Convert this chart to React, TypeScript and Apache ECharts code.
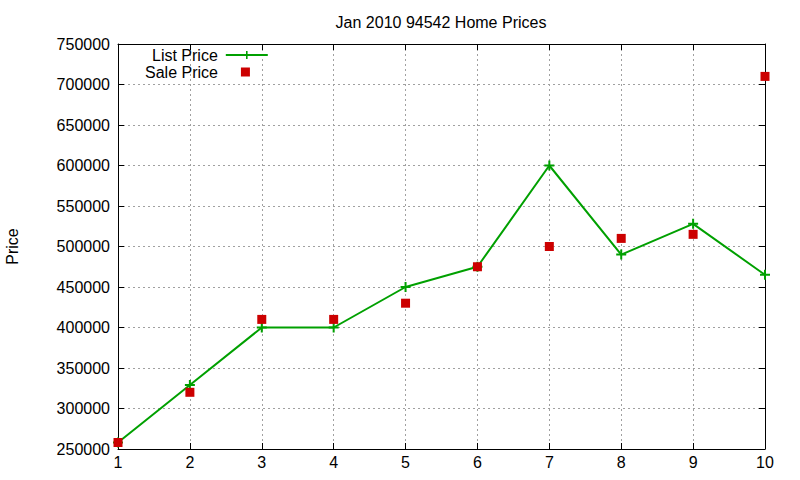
import React, { useEffect, useRef } from "react";
import * as echarts from "echarts";

const months = [1, 2, 3, 4, 5, 6, 7, 8, 9, 10];
const listPrice = [258000, 329000, 400000, 400000, 450000, 475000, 600000, 490000, 528000, 465000];
const salePrice = [258000, 320000, 410000, 410000, 430000, 475000, 500000, 510000, 515000, 710000];
const titleText = "Jan 2010 94542 Home Prices";
const yName = "Price";

const FONT = "'Liberation Sans', Arial, sans-serif";
const GREEN = "#00a000";
const RED = "#cc0000";
const PLUS = "path://M4,0H6V4H10V6H6V10H4V6H0V4H4Z";

export default function App() {
  const ref = useRef<HTMLDivElement>(null);
  useEffect(() => {
    if (!ref.current) return;
    const chart = echarts.init(ref.current, null, { renderer: "svg" });
    const grid = { left: 118, right: 35, top: 44, bottom: 31, outerBoundsMode: "none", containLabel: false };
    const axisCommon = {
      axisLine: { show: true, lineStyle: { color: "#000", width: 1 } },
      axisTick: { show: true, inside: true, length: 6, lineStyle: { color: "#000" } },
    };
    chart.setOption({
      animation: false,
      backgroundColor: "#fff",
      textStyle: { fontFamily: FONT },
      title: {
        text: titleText,
        left: 436,
        textAlign: "center",
        top: 9,
        textStyle: { fontFamily: FONT, fontSize: 16, fontWeight: "normal", color: "#000" },
      },
      grid,
      legend: [
        {
          data: ["List Price"],
          orient: "vertical",
          align: "right",
          left: 152,
          top: 47,
          itemWidth: 42,
          itemHeight: 10,
          padding: 0,
          textStyle: { fontFamily: FONT, fontSize: 16, color: "#000", padding: [0, 3, 0, 0] },
        },
        {
          data: ["Sale Price"],
          orient: "vertical",
          align: "right",
          left: 145,
          top: 64,
          itemWidth: 9,
          itemHeight: 9,
          padding: 0,
          textStyle: { fontFamily: FONT, fontSize: 16, color: "#000", padding: [0, 18, 0, 0] },
        },
      ],
      xAxis: [
        {
          type: "value",
          min: 1,
          max: 10,
          interval: 1,
          ...axisCommon,
          axisLabel: { fontFamily: FONT, fontSize: 16, color: "#000", margin: 5 },
          splitLine: { show: true, lineStyle: { color: "#a0a0a0", type: [2, 3], width: 1 } },
        },
        {
          type: "value",
          position: "top",
          min: 1,
          max: 10,
          interval: 1,
          ...axisCommon,
          axisLabel: { show: false },
          splitLine: { show: false },
        },
      ],
      yAxis: [
        {
          type: "value",
          min: 250000,
          max: 750000,
          interval: 50000,
          name: yName,
          nameLocation: "middle",
          nameGap: 98,
          nameRotate: 90,
          nameTextStyle: { fontFamily: FONT, fontSize: 16, color: "#000" },
          ...axisCommon,
          axisLabel: {
            fontFamily: FONT,
            fontSize: 16,
            color: "#000",
            margin: 8,
            formatter: (v: number) => String(v),
          },
          splitLine: { show: true, lineStyle: { color: "#a0a0a0", type: [2, 3], width: 1 } },
        },
        {
          type: "value",
          position: "right",
          min: 250000,
          max: 750000,
          interval: 50000,
          ...axisCommon,
          axisLabel: { show: false },
          splitLine: { show: false },
        },
      ],
      series: [
        {
          name: "List Price",
          type: "line",
          data: months.map((m, i) => [m, listPrice[i]]),
          symbol: PLUS,
          symbolSize: 10,
          showSymbol: true,
          lineStyle: { color: GREEN, width: 2 },
          itemStyle: { color: GREEN, opacity: 1 },
          z: 3,
        },
        {
          name: "Sale Price",
          type: "scatter",
          data: months.map((m, i) => [m, salePrice[i]]),
          symbol: "rect",
          symbolSize: 9,
          itemStyle: { color: RED, opacity: 1 },
          z: 4,
        },
      ],
    });
    return () => chart.dispose();
  }, []);
  return <div ref={ref} style={{ width: 800, height: 480, position: "absolute", left: 0, top: 0 }} />;
}
